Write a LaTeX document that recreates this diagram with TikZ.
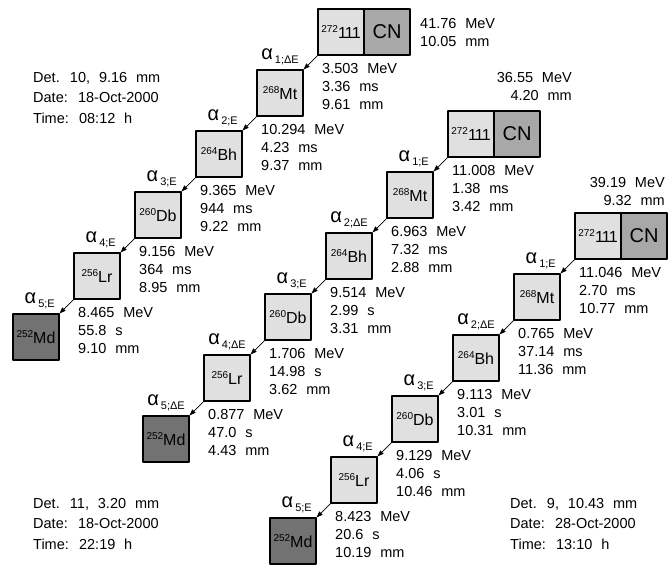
\documentclass[tikz,border=0pt]{standalone}
\usepackage{fontspec}
\setmainfont[WordSpace=2.2]{Liberation Sans}
\usepackage{tikz}
\usetikzlibrary{arrows.meta,calc,positioning}
\definecolor{nuclight}{HTML}{E0E0E0}
\definecolor{cndark}{HTML}{A8A8A8}
\definecolor{mddark}{HTML}{727272}
\newcommand{\mass}[1]{\raisebox{6pt}{\fontsize{10}{10}\selectfont#1}}
\newcommand{\alphasub}[1]{{\fontsize{20}{20}\selectfont α}\kern2pt\raisebox{-4pt}{\fontsize{11}{11}\selectfont#1}}
\tikzset{
every picture/.style={line cap=round,line join=round},
>={Latex[length=7pt,width=5pt]},
nuc box/.style={
  draw=black,
  line width=1.3pt,
  fill=nuclight,
  minimum size=46pt,
  inner sep=0pt,
  outer sep=0pt,
  anchor=north west,
  font=\fontsize{16}{16}\selectfont
},
cn box/.style={nuc box, fill=cndark, font=\fontsize{20}{20}\selectfont},
md box/.style={nuc box, fill=mddark},
decay flow/.style={draw=black, ->, line width=0.7pt},
alpha label/.style={inner sep=0pt},
data label/.style={anchor=north west, align=left, inner sep=0pt, font=\fontsize{14.5}{18}\selectfont},
det label/.style={anchor=north west, align=left, inner sep=0pt, font=\fontsize{14.5}{20.5}\selectfont}
}
\begin{document}
\begin{tikzpicture}[x=1pt,y=-1pt]
\useasboundingbox (0,0) rectangle (668,568);
% decay chains, from the granddaughter up to the compound nucleus
\foreach \c/\x/\y in {1/13/314,2/143/416,3/270/518} {
\node[md box] (md\c) at (\x,\y) {\mass{252}Md};
\node[nuc box] (lr\c) at (\x+61,\y-61) {\mass{256}Lr};
\node[nuc box] (db\c) at (\x+122,\y-122) {\mass{260}Db};
\node[nuc box] (bh\c) at (\x+183,\y-183) {\mass{264}Bh};
\node[nuc box] (mt\c) at (\x+244,\y-244) {\mass{268}Mt};
\node[nuc box] (er\c) at (\x+305,\y-305) {\mass{272}1\kern-2pt1\kern-2pt1};
\node[cn box, right=0pt of er\c] (cn\c) {CN};
}
\foreach \c in {1,2,3}
\foreach \a/\b in {er/mt,mt/bh,bh/db,db/lr,lr/md}
\draw[decay flow] (\a\c.south west) -- (\b\c.north east);
% alpha labels
\foreach \n/\s in {mt1/1;ΔE,bh1/2;E,db1/3;E,lr1/4;E,md1/5;E,mt2/1;E,bh2/2;ΔE,db2/3;E,lr2/4;ΔE,md2/5;ΔE,mt3/1;E,bh3/2;ΔE,db3/3;E,lr3/4;E,md3/5;E}
\node[alpha label, above left=5pt and 4pt of \n.north east] (a\n) {\alphasub{\s}};
% energy, time and position of each decay
\foreach \pn/\dn/\en/\tm/\rd in {er1/mt1/3.503/3.36 ms/9.61,mt1/bh1/10.294/4.23 ms/9.37,bh1/db1/9.365/944 ms/9.22,db1/lr1/9.156/364 ms/8.95,lr1/md1/8.465/55.8 s/9.10,er2/mt2/11.008/1.38 ms/3.42,mt2/bh2/6.963/7.32 ms/2.88,bh2/db2/9.514/2.99 s/3.31,db2/lr2/1.706/14.98 s/3.62,lr2/md2/0.877/47.0 s/4.43,er3/mt3/11.046/2.70 ms/10.77,mt3/bh3/0.765/37.14 ms/11.36,bh3/db3/9.113/3.01 s/10.31,db3/lr3/9.129/4.06 s/10.46,lr3/md3/8.423/20.6 s/10.19}
\node[data label] (e\dn) at ($(\dn.east |- \pn.south)+(19,8)$) {\en\ MeV\\\tm\\\rd\ mm};
\node[data label] (top1) at ($(cn1.north east)+(10,9)$) {41.76 MeV\\10.05 mm};
\node[data label, anchor=north east, align=right] (top2) at ($(cn2.north east)+(32,-39)$) {36.55 MeV\\4.20 mm};
\node[data label, anchor=north east, align=right] (top3) at ($(cn3.north east)+(-2,-36)$) {39.19 MeV\\9.32 mm};
% detector, date and time
\node[det label] (det10) at (33,72) {Det. 10, 9.16 mm\\Date: 18-Oct-2000\\Time: 08:12 h};
\node[det label] (det11) at (33,498) {Det. 11, 3.20 mm\\Date: 18-Oct-2000\\Time: 22:19 h};
\node[det label] (det9) at (510,498) {Det. 9, 10.43 mm\\Date: 28-Oct-2000\\Time: 13:10 h};
\end{tikzpicture}
\end{document}
